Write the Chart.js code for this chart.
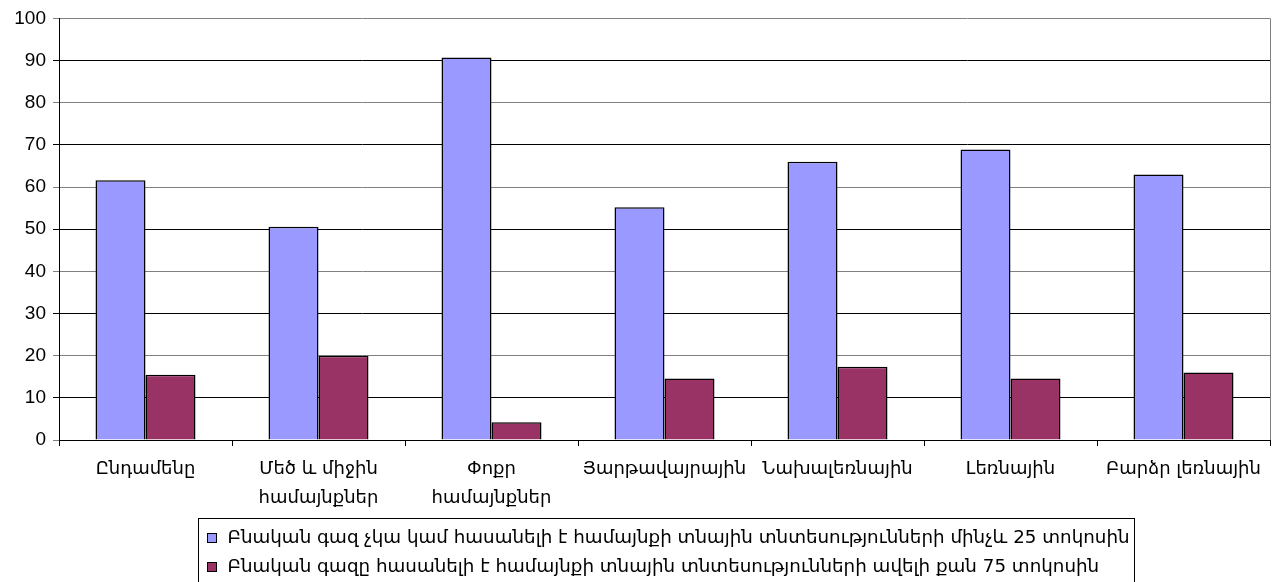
<!DOCTYPE html>
<html>
<head>
<meta charset="utf-8">
<script src="https://cdn.jsdelivr.net/npm/chart.js@4.4.0/dist/chart.umd.min.js"></script>
<style>
    html, body { margin: 0; padding: 0; background: #ffffff; }
    #wrap { width: 1279px; height: 582px; position: relative; }
</style>
</head>
<body>
<div id="wrap"><canvas id="myChart"></canvas></div>
<script>
var categories = [
    "Ընդամենը",
    ["Մեծ և միջին", "համայնքներ"],
    ["Փոքր", "համայնքներ"],
    "Յարթավայրային",
    "Նախալեռնային",
    "Լեռնային",
    "Բարձր լեռնային"
];
var seriesNames = [
    "Բնական գազ չկա կամ հասանելի է համայնքի տնային տնտեսությունների մինչև 25 տոկոսին",
    "Բնական գազը հասանելի է համայնքի տնային տնտեսությունների ավելի քան 75 տոկոսին"
];
var noGasValues = [61.6, 50.6, 90.7, 55.2, 66.0, 68.9, 63.0];
var gasValues = [15.5, 20.0, 4.2, 14.6, 17.4, 14.6, 16.0];
var yTicks = [0, 10, 20, 30, 40, 50, 60, 70, 80, 90, 100];

var armFont = "'DejaVu Sans', sans-serif";
var numFont = "'Liberation Sans', Arial, sans-serif";

// legend drawn in a box under the axis, items left aligned
var boxLegend = {
    id: "boxLegend",
    afterDraw: function (chart) {
        var ctx = chart.ctx;
        var area = chart.chartArea;
        var sets = chart.data.datasets;
        ctx.save();
        ctx.font = "18.3px " + armFont;
        var maxW = 0;
        for (var i = 0; i < sets.length; i++) {
            maxW = Math.max(maxW, ctx.measureText(sets[i].label).width);
        }
        var w = Math.round(maxW + 34);
        var left = 198.5;
        var top = 518.5;
        ctx.strokeStyle = "#000000";
        ctx.lineWidth = 1;
        ctx.strokeRect(left, top, w, 80);
        ctx.textBaseline = "middle";
        for (var i = 0; i < sets.length; i++) {
            var y = Math.round(top + 19 + i * 29);
            ctx.fillStyle = sets[i].backgroundColor;
            ctx.fillRect(left + 9, y - 4, 9, 9);
            ctx.strokeStyle = "#000000";
            ctx.strokeRect(left + 9, y - 4.5, 9, 9);
            ctx.fillStyle = "#000000";
            ctx.fillText(sets[i].label, left + 29, y);
        }
        // right edge of the plot area
        ctx.strokeStyle = "#808080";
        ctx.beginPath();
        ctx.moveTo(area.right + 0.5, area.top);
        ctx.lineTo(area.right + 0.5, area.bottom);
        ctx.stroke();
        ctx.restore();
    }
};

function drawChart() {
    var ctx = document.getElementById("myChart").getContext("2d");
    var myChart = new Chart(ctx, {
        type: "bar",
        data: {
            labels: categories,
            datasets: [
                {
                    label: seriesNames[0],
                    data: noGasValues,
                    backgroundColor: "#9999ff",
                    borderColor: "#000000",
                    borderWidth: 1.5,
                },
                {
                    label: seriesNames[1],
                    data: gasValues,
                    backgroundColor: "#993366",
                    borderColor: "#000000",
                    borderWidth: 1.5,
                },
            ],
        },
        options: {
            responsive: true,
            maintainAspectRatio: false,
            animation: false,
            layout: {
                padding: { top: 6, right: 9, left: 0, bottom: 0 },
            },
            datasets: {
                bar: { categoryPercentage: 0.578, barPercentage: 1.0 },
            },
            scales: {
                x: {
                    grid: {
                        offset: true,
                        drawOnChartArea: false,
                        drawTicks: true,
                        tickLength: 6,
                        color: "#000000",
                    },
                    border: { color: "#000000", width: 1 },
                    ticks: {
                        color: "#000000",
                        maxRotation: 0,
                        autoSkip: false,
                        padding: 8,
                        font: { family: armFont, size: 18, lineHeight: 1.65 },
                    },
                    afterFit: function (scale) { scale.height = 142; },
                },
                y: {
                    min: 0,
                    max: 100,
                    afterBuildTicks: function (scale) {
                        scale.ticks = yTicks.map(function (v) { return { value: v }; });
                    },
                    grid: {
                        color: function (c) {
                            return c.tick && c.tick.value % 20 === 0 ? "#808080" : "#000000";
                        },
                        tickLength: 6,
                    },
                    border: { color: "#000000", width: 1 },
                    ticks: {
                        color: "#000000",
                        padding: 7,
                        font: { family: numFont, size: 19 },
                    },
                    afterFit: function (scale) { scale.width = 59; },
                },
            },
            plugins: {
                legend: { display: false },
                title: { display: false },
                tooltip: { enabled: false },
            },
        },
        plugins: [boxLegend],
    });
}

window.onload = drawChart;
</script>
</body>
</html>
